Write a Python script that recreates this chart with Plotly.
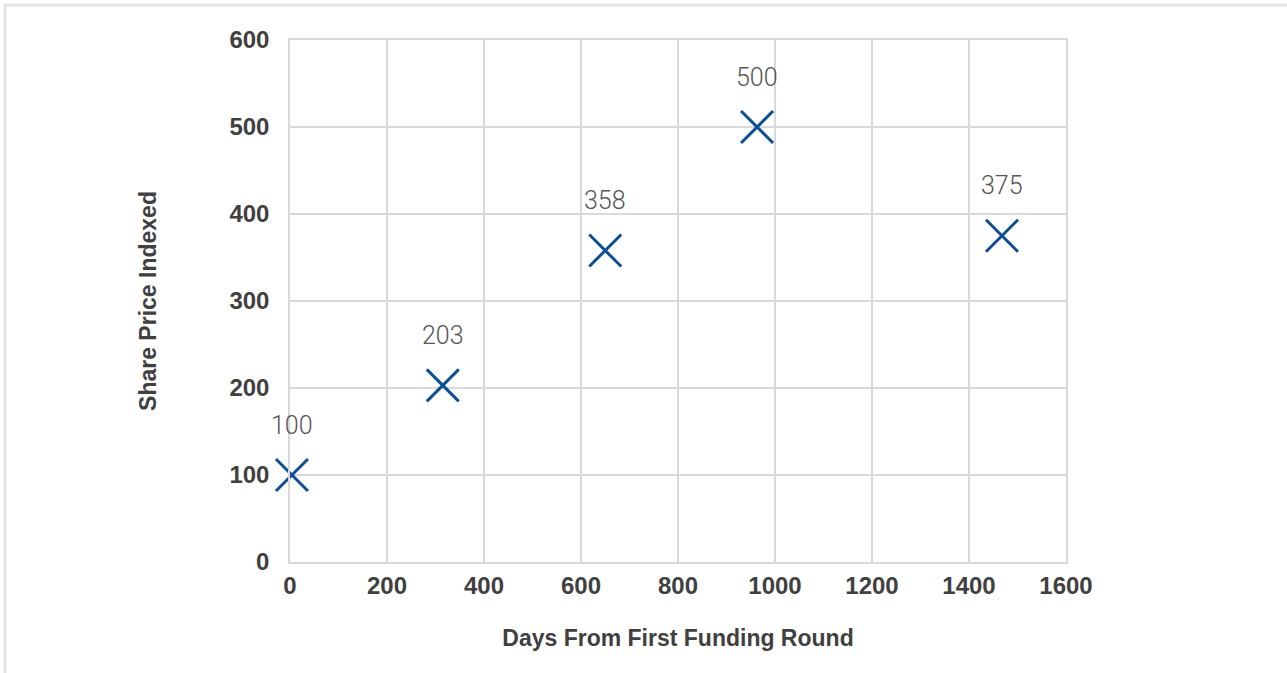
import plotly.graph_objects as go

# Share price (indexed) at each funding round, by days since the first round
days = [4, 315, 650, 963, 1468]
share_price = [100, 203, 358, 500, 375]
price_labels = ["100", "203", "358", "500", "375"]

x_ticks = [0, 200, 400, 600, 800, 1000, 1200, 1400, 1600]
y_ticks = [0, 100, 200, 300, 400, 500, 600]

W, H = 1287, 673
L, R, T, B = 290, 221, 40, 111
plot_w, plot_h = W - L - R, H - T - B

grid = "#d9d9d9"
bold_family = "Liberation Sans, Arial, Helvetica, sans-serif"
tick_font = dict(family=bold_family, size=24, color="#404040", weight="bold")
title_font = dict(family=bold_family, size=23, color="#404040", weight="bold")

fig = go.Figure()
fig.add_trace(go.Scatter(
    x=days,
    y=share_price,
    mode="markers",
    marker=dict(symbol="x-thin", size=32, line=dict(width=3, color="#0b4f9c")),
    cliponaxis=False,
    hoverinfo="skip",
    showlegend=False,
))

# value labels above each marker
for d, v, lab in zip(days, share_price, price_labels):
    fig.add_annotation(
        x=d, y=v, text=lab, showarrow=False, yshift=50,
        font=dict(family="Roboto, Arial, sans-serif", size=25, color="#555555", weight=300),
    )

# thin light frame around the whole chart panel
fig.add_shape(
    type="rect", xref="paper", yref="paper",
    x0=(5 - L) / plot_w, x1=(W + 20 - L) / plot_w,
    y0=-(H + 20 - T - plot_h) / plot_h, y1=(T + plot_h - 5) / plot_h,
    line=dict(color="#e6e6e6", width=3), fillcolor="rgba(0,0,0,0)", layer="below",
)

fig.update_layout(
    width=W, height=H,
    margin=dict(l=L, r=R, t=T, b=B),
    paper_bgcolor="white",
    plot_bgcolor="white",
    xaxis=dict(
        range=[0, 1600], tickvals=x_ticks, ticktext=[str(v) for v in x_ticks],
        showgrid=True, gridcolor=grid, gridwidth=1.5,
        showline=True, linecolor=grid, linewidth=1.5, mirror=True,
        zeroline=False, ticks="", tickfont=tick_font, ticklabelstandoff=1,
        title=dict(text="Days From First Funding Round", standoff=32, font=title_font),
    ),
    yaxis=dict(
        range=[0, 600], tickvals=y_ticks, ticktext=[str(v) for v in y_ticks],
        showgrid=True, gridcolor=grid, gridwidth=1.5,
        showline=True, linecolor=grid, linewidth=1.5, mirror=True,
        zeroline=False, ticks="", tickfont=tick_font, ticklabelstandoff=14,
        title=dict(text="Share Price Indexed", standoff=66, font=title_font),
    ),
)

fig.write_html("out.html")
